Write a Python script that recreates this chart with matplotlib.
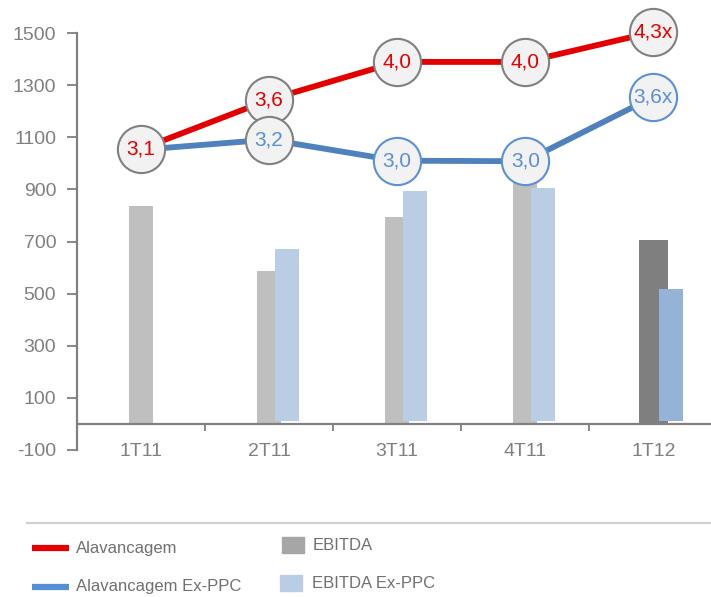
import matplotlib
matplotlib.use('Agg')
import matplotlib.pyplot as plt
from matplotlib.lines import Line2D
from matplotlib.patches import Rectangle
import numpy as np

# dados
categorias = ['1T11', '2T11', '3T11', '4T11', '1T12']
ebitda = [838, 586, 793, 960, 705]
ebitda_ex_ppc = [None, 672, 893, 906, 518]
alavancagem = [1055, 1244, 1389, 1389, 1504]
alavancagem_ex_ppc = [1052, 1091, 1010, 1008, 1255]
rot_alav = ['3,1', '3,6', '4,0', '4,0', '4,3x']
rot_alav_ex = [None, '3,2', '3,0', '3,0', '3,6x']
y_ticks = [-100, 100, 300, 500, 700, 900, 1100, 1300, 1500]

cinza_txt = '#808080'
vermelho = '#e30000'
azul_linha = '#4f81bd'
azul_circ = '#5b8fd6'
narrow = ['Liberation Sans Narrow', 'Liberation Sans', 'DejaVu Sans']
plt.rcParams['font.family'] = ['Liberation Sans', 'DejaVu Sans']
plt.rcParams['axes.unicode_minus'] = False

fig = plt.figure(figsize=(7.11, 5.97), dpi=100)
ax = fig.add_axes([77 / 711, 1 - 450 / 597, (711 - 77) / 711, 417 / 597])

x = np.arange(len(categorias))
larg = 0.19
desl = 0.14

# barras EBITDA (a ultima mais escura)
cores_eb = ['#bfbfbf'] * (len(categorias) - 1) + ['#7f7f7f']
larg_eb = [larg] * (len(categorias) - 1) + [0.23]
ax.bar(x, ebitda, width=larg_eb, color=cores_eb, edgecolor='none', zorder=2)

# barras EBITDA Ex-PPC
xb = [xi + desl for xi, v in zip(x, ebitda_ex_ppc) if v is not None]
vb = [v - 10 for v in ebitda_ex_ppc if v is not None]
cores_ex = ['#b9cde5'] * (len(xb) - 1) + ['#95b3d7']
ax.bar(xb, vb, bottom=10, width=larg, color=cores_ex, edgecolor='none', zorder=2)

# linhas
ax.plot(x, alavancagem_ex_ppc, '-', color=azul_linha, lw=4.2, zorder=3, solid_capstyle='butt')
ax.plot(x, alavancagem, '-', color=vermelho, lw=4.2, zorder=3, solid_capstyle='butt')

# circulos com rotulos
for xi, yi, lab in zip(x, alavancagem, rot_alav):
    ax.plot(xi, yi, 'o', ms=34, mfc='#f2f2f2', mec='#808080', mew=1.5, zorder=4, clip_on=False)
    ax.text(xi, yi, lab, color=vermelho, fontsize=15, ha='center', va='center',
            family=narrow, zorder=6, clip_on=False)
for i, (xi, yi, lab) in enumerate(zip(x, alavancagem_ex_ppc, rot_alav_ex)):
    if lab is None:
        continue
    borda = '#808080' if i == 1 else azul_circ
    ax.plot(xi, yi, 'o', ms=34, mfc='#f2f2f2', mec=borda, mew=1.5, zorder=5, clip_on=False)
    ax.text(xi, yi, lab, color=azul_circ, fontsize=15, ha='center', va='center',
            family=narrow, zorder=6, clip_on=False)

# eixos
ax.set_xlim(-0.5, 4.45)
ax.set_ylim(-100, 1500)
ax.set_yticks(y_ticks)
ax.set_xticks(x)
ax.set_xticklabels(categorias)
ax.set_xticks(x[:-1] + 0.5, minor=True)
ax.spines['top'].set_visible(False)
ax.spines['right'].set_visible(False)
ax.spines['bottom'].set_position(('data', 0))
for s in ['left', 'bottom']:
    ax.spines[s].set_color(cinza_txt)
    ax.spines[s].set_linewidth(1.6)
ax.tick_params(axis='y', colors=cinza_txt, labelsize=14, length=7, width=1.3, pad=8)
ax.tick_params(axis='x', which='major', length=0, colors=cinza_txt, labelsize=14, pad=14)
ax.tick_params(axis='x', which='minor', length=5, width=1.3, color=cinza_txt)

# legenda desenhada a mao
fig.add_artist(Line2D([27 / 711, 1], [1 - 523 / 597] * 2, color='#d0d0d0', lw=1.6))
itens_linha = [('Alavancagem', vermelho, 548), ('Alavancagem Ex-PPC', '#558ed5', 587)]
for nome, cor, yy in itens_linha:
    fig.add_artist(Line2D([32 / 711, 69 / 711], [1 - yy / 597] * 2, color=cor, lw=4.5,
                          solid_capstyle='butt'))
    fig.text(76 / 711, 1 - yy / 597, nome, color='#707070', fontsize=12, va='center', family=narrow)
itens_barra = [('EBITDA', '#a6a6a6', 282, 545, 313), ('EBITDA Ex-PPC', '#b9cde5', 280, 583, 312)]
for nome, cor, xx, yy, xt in itens_barra:
    fig.add_artist(Rectangle((xx / 711, 1 - (yy + 8) / 597), 22 / 711, 16 / 597,
                             color=cor, transform=fig.transFigure))
    fig.text(xt / 711, 1 - yy / 597, nome, color='#707070', fontsize=12, va='center', family=narrow)

fig.savefig('out.png', dpi=100)
